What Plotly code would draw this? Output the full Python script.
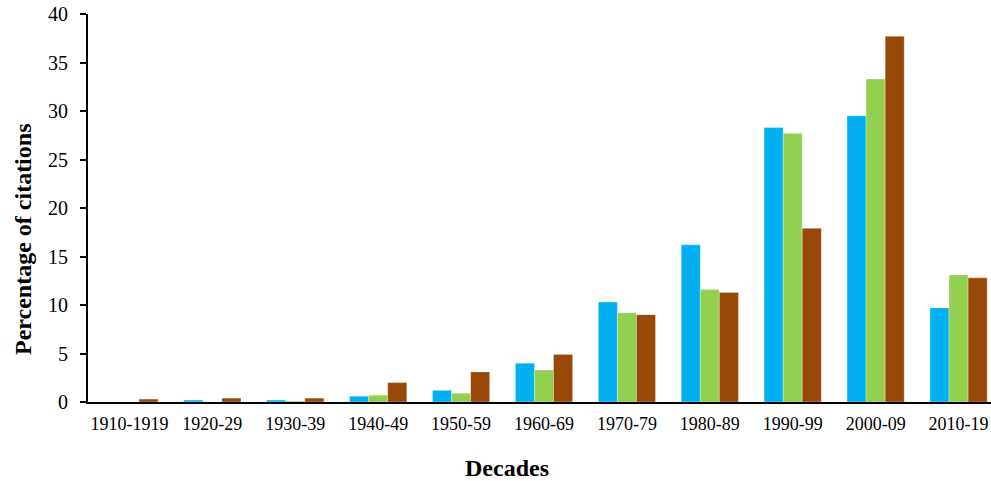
import plotly.graph_objects as go

decades = ["1910-1919", "1920-29", "1930-39", "1940-49", "1950-59", "1960-69",
           "1970-79", "1980-89", "1990-99", "2000-09", "2010-19"]
series_a = [0.0, 0.2, 0.2, 0.6, 1.2, 4.0, 10.3, 16.2, 28.3, 29.5, 9.7]
series_b = [0.0, 0.0, 0.1, 0.7, 0.9, 3.3, 9.2, 11.6, 27.7, 33.3, 13.1]
series_c = [0.3, 0.4, 0.4, 2.0, 3.1, 4.9, 9.0, 11.3, 17.9, 37.7, 12.8]
y_ticks = [0, 5, 10, 15, 20, 25, 30, 35, 40]

colors = ["#00B0F0", "#92D050", "#984807"]
names = ["Series 1", "Series 2", "Series 3"]

fig = go.Figure()
for name, vals, col in zip(names, [series_a, series_b, series_c], colors):
    fig.add_trace(go.Bar(
        x=decades, y=vals, name=name,
        marker=dict(color=col, line=dict(color="rgba(255,255,255,0.6)", width=0.5)),
    ))

# plot area: x 88..1000 px (912 wide), y 14..402 px (388 tall)
fig.add_annotation(text="<b>Decades</b>", xref="paper", yref="paper",
                   x=(507 - 88) / 912, y=(402 - 468) / 388,
                   xanchor="center", yanchor="middle", showarrow=False,
                   font=dict(size=24))
fig.add_annotation(text="<b>Percentage of citations</b>", xref="paper", yref="paper",
                   x=(23 - 88) / 912, y=(402 - 240) / 388, textangle=-90,
                   xanchor="center", yanchor="middle", showarrow=False,
                   font=dict(size=24))

fig.update_layout(
    width=1000, height=481,
    barmode="group", bargap=0.31, bargroupgap=0,
    showlegend=False,
    plot_bgcolor="white", paper_bgcolor="white",
    margin=dict(l=88, r=0, t=14, b=79),
    font=dict(family="Liberation Serif", size=16, color="black"),
    xaxis=dict(
        type="category",
        showline=True, linecolor="black", linewidth=2,
        ticks="", tickfont=dict(size=18), ticklabelstandoff=4,
        showgrid=False, automargin=False,
    ),
    yaxis=dict(
        range=[0, 40], tickvals=y_ticks,
        showline=True, linecolor="black", linewidth=2,
        ticks="outside", ticklen=6, tickwidth=1.5, tickcolor="black",
        tickfont=dict(size=20), ticklabelstandoff=8,
        showgrid=False, zeroline=False, automargin=False,
    ),
)

fig.write_html("out.html", config={"displayModeBar": False},
               post_script="document.body.style.margin='0';document.body.style.overflow='hidden';")
